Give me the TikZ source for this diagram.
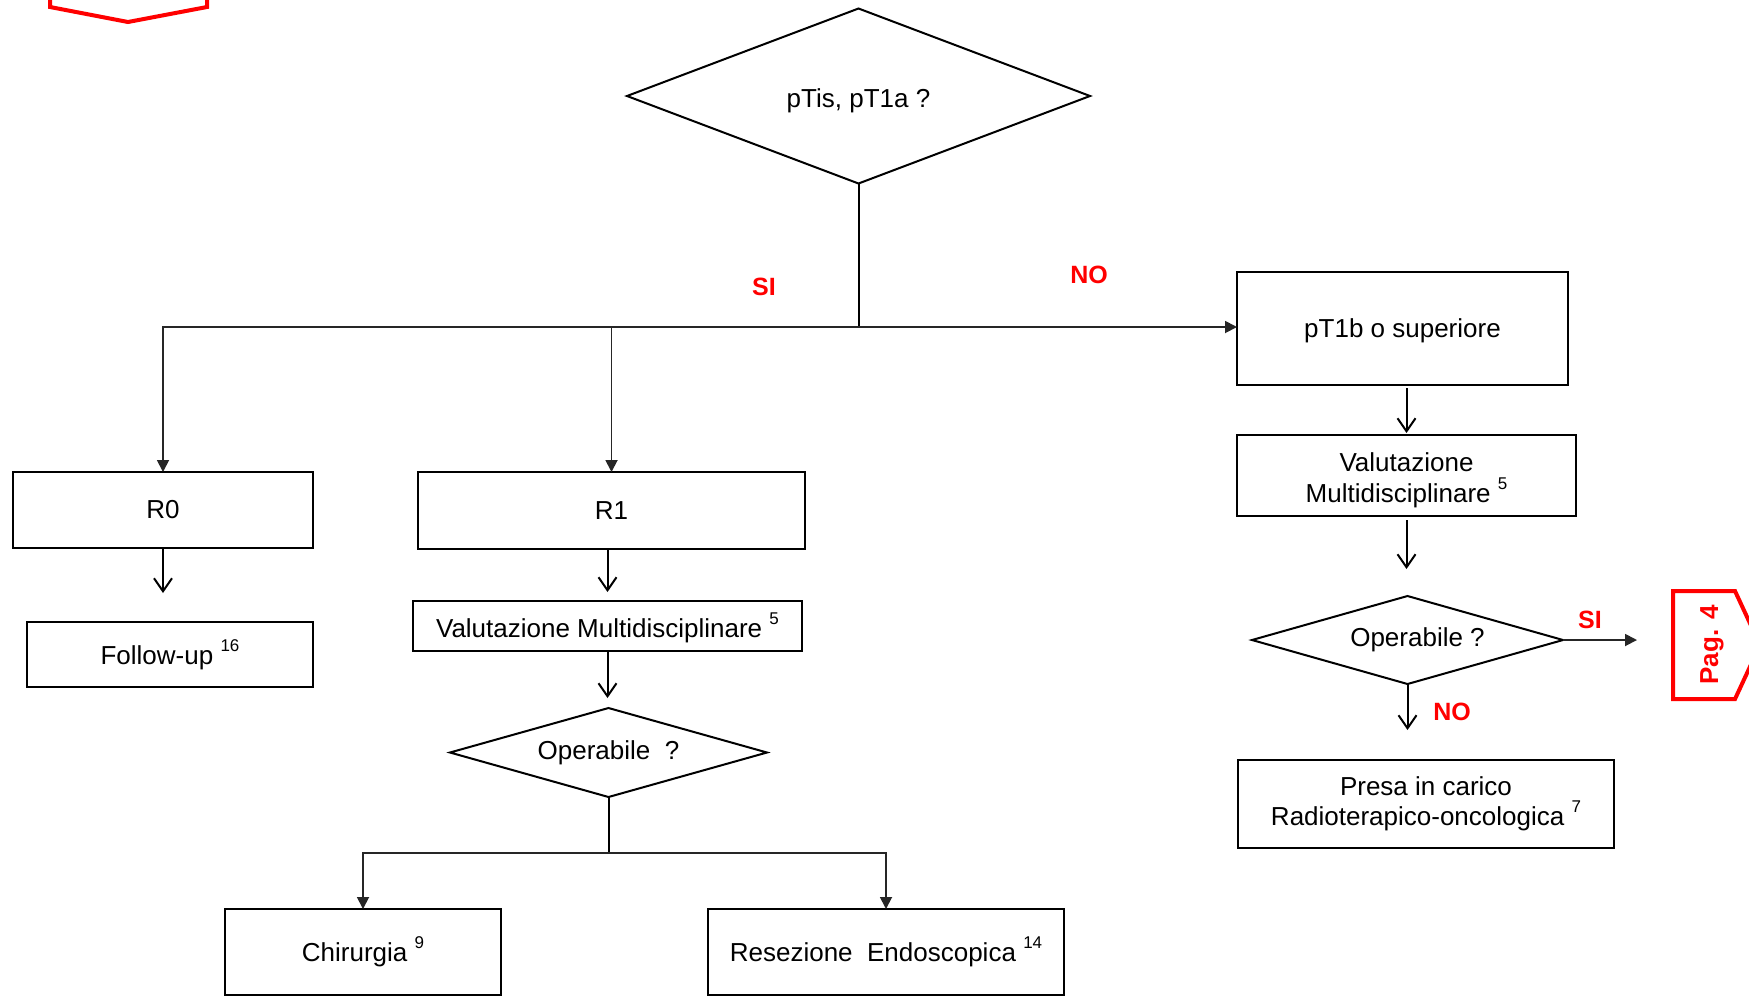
\documentclass[tikz,border=0pt]{standalone}
\usepackage{fontspec}
\setmainfont{Liberation Sans}
\usetikzlibrary{shapes.geometric,arrows.meta}

% small raised reference numbers
\newcommand\supnum[1]{\raisebox{0.5em}{\fontsize{8.5}{8.5}\selectfont #1}}
% move text down inside its node without changing the node size
\newcommand\lowered[2]{\raisebox{-#1}[\height][\depth]{#2}}

\begin{document}
\begin{tikzpicture}[x=0.5pt,y=-0.5pt,
  sz/.style 2 args={minimum width=#1*0.5pt, minimum height=#2*0.5pt},
  box/.style={draw, line width=1pt, inner sep=0pt, outer sep=0pt, align=center,
    font=\fontsize{13}{15}\selectfont},
  quest/.style={diamond, draw, line width=1pt, inner sep=0pt, outer sep=0pt,
    font=\fontsize{13}{15}\selectfont},
  stem/.style={line width=1pt, black},
  conn/.style={line width=0.9pt, black!85},
  tri/.style={conn, -{Triangle[length=6pt,width=6pt]}},
  openarr/.style={line width=1pt, -{Straight Barb[length=6.5pt,width=9pt,line width=1pt]}},
  lbl/.style={text=red, font=\fontsize{12.5}{14}\selectfont\bfseries},
  offpage/.style={draw=red, line width=2pt, line join=miter}]

\useasboundingbox (0,0) rectangle (1749,997);
\fill[white] (0,0) rectangle (1749,997);

% off-page connectors
\draw[offpage] (50,-20) -- (50,7) -- (128,22) -- (207,7) -- (207,-20);
\draw[offpage] (1673,591) -- (1735,591) -- (1760,645) -- (1735,699) -- (1673,699) -- cycle;
\node[text=red, font=\fontsize{13}{15}\selectfont\bfseries, rotate=90] (pag4) at (1712,645) {Pag. 4};

% decisions
\node[quest, aspect=2.65, sz={463}{175}] (q1) at (858.5,96) {\lowered{2.2pt}{pTis, pT1a ?}};
\node[quest, aspect=3.56, sz={317}{89}] (q2) at (608.5,752.5) {Operabile\ \ ?};
\node[quest, aspect=3.5, sz={311}{88}] (q3) at (1407.5,640) {\hspace{10pt}Operabile ?};

% process boxes
\node[box, sz={300}{76}] (r0) at (163,510) {R0};
\node[box, sz={286}{65}] (fu) at (170,654.5) {Follow-up \supnum{16}};
\node[box, sz={387}{77}] (r1) at (611.5,510.5) {R1};
\node[box, sz={389}{50}] (vm1) at (607.5,626) {\lowered{1pt}{Valutazione Multidisciplinare \supnum{5}}};
\node[box, sz={276}{86}] (chir) at (363,952) {Chirurgia \supnum{9}};
\node[box, sz={356}{86}] (res) at (886,952) {Resezione\ \ Endoscopica \supnum{14}};
\node[box, sz={331}{113}] (pt1b) at (1402.5,328.5) {\lowered{1.1pt}{pT1b o superiore}};
\node[box, sz={339}{81}] (vm2) at (1406.5,475.5) {\lowered{2.6pt}{\shortstack{Valutazione\\Multidisciplinare \supnum{5}}}};
\node[box, sz={376}{88}] (presa) at (1426,804) {Presa in carico\\Radioterapico-oncologica \supnum{7}};

% branch points and free ends
\coordinate (j) at (858.5,327);
\coordinate (k) at (608.5,853);
\coordinate (s) at (1637,640);

% first decision
\draw[stem] (q1.south) -- (j);
\draw[tri] (j) -| (r0.north);
\draw[tri] (j -| r1.north) -- (r1.north);
\draw[tri] (j) -- (j -| pt1b.west);

% left branches
\draw[openarr, shorten >=14.5pt] (r0.south) -- (r0.south |- fu.north);
\draw[openarr, shorten >=4.5pt] (vm1.north |- r1.south) -- (vm1.north);
\draw[openarr, shorten >=5pt] (vm1.south) -- (vm1.south |- q2.north);
\draw[stem] (q2.south) -- (k);
\draw[tri] (k) -| (chir.north);
\draw[tri] (k) -| (res.north);

% right branch
\draw[openarr, shorten <=1.5pt, shorten >=1pt] (vm2.north |- pt1b.south) -- (vm2.north);
\draw[openarr, shorten <=2pt, shorten >=13.5pt] (vm2.south) -- (vm2.south |- q3.north);
\draw[openarr, shorten >=15pt] (q3.south) -- (q3.south |- presa.north);
\draw[tri] (q3.east) -- (s);

% answer labels
\node[lbl] (si1) at (764,287) {SI};
\node[lbl] (no1) at (1089,275) {NO};
\node[lbl] (si2) at (1590,620) {SI};
\node[lbl] (no2) at (1452,712) {NO};
\end{tikzpicture}
\end{document}
